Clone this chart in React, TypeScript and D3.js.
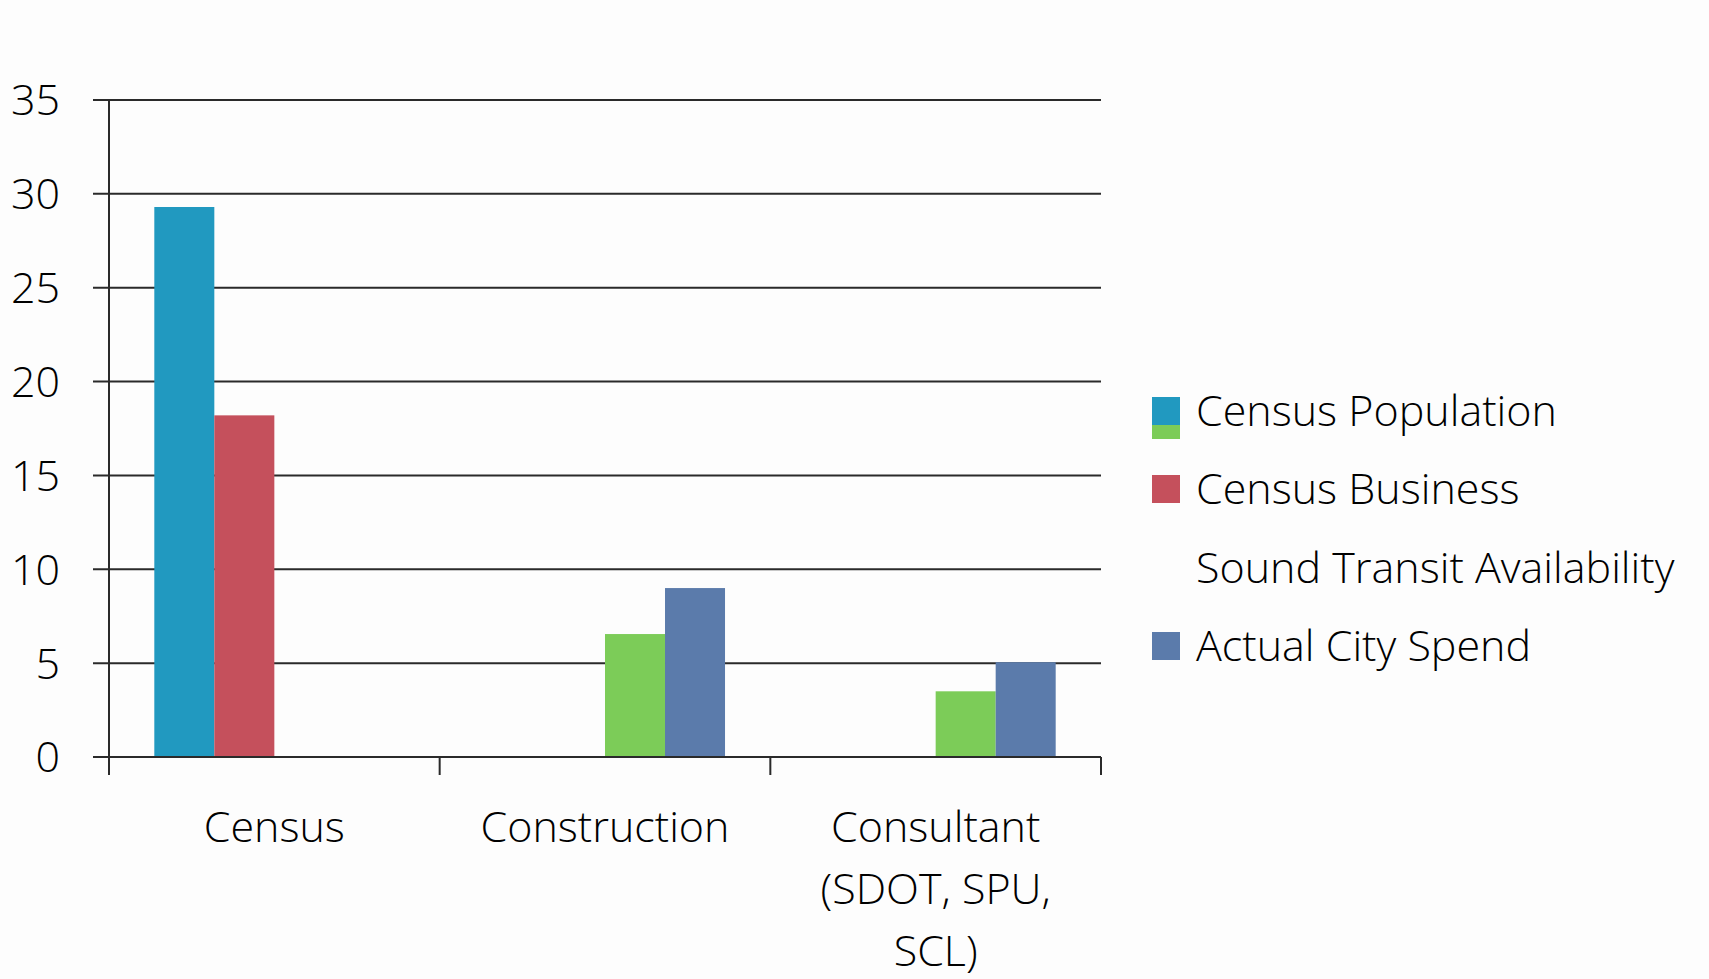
import React, { useEffect, useRef } from 'react';
import * as d3 from 'd3';

const categories = ['Census', 'Construction', 'Consultant (SDOT, SPU, SCL)'];
const categoryLines = [['Census'], ['Construction'], ['Consultant', '(SDOT, SPU,', 'SCL)']];
const seriesNames = ['Census Population', 'Census Business', 'Sound Transit Availability', 'Actual City Spend'];
const seriesColors = ['#2199c0', '#c5505c', '#7ccc58', '#5b7bab'];
const censusPopulation = [29.3, 0, 0];
const censusBusiness = [18.2, 0, 0];
const soundTransit = [0, 6.55, 3.5];
const actualCitySpend = [0, 9.0, 5.05];
const yTicks = [0, 5, 10, 15, 20, 25, 30, 35];

const App = () => {
  const ref = useRef<SVGSVGElement>(null);

  useEffect(() => {
    const svg = d3.select(ref.current);
    svg.selectAll('*').remove();

    const font = "'Open Sans', 'Noto Sans', sans-serif";
    const weight = 300;
    const fs = 43;
    const left = 109, right = 1101, top = 100, bottom = 757;

    const y = d3.scaleLinear().domain([0, 35]).range([bottom, top]);
    const x0 = d3.scaleBand().domain(categories).range([left, right]).padding(0);
    const x1 = d3.scaleBand().domain(seriesNames).range([0, x0.bandwidth()])
      .paddingInner(0).paddingOuter(0.755);

    svg.append('rect').attr('width', 1709).attr('height', 979).attr('fill', '#fdfdfd');

    // gridlines + y labels
    const g = svg.append('g');
    g.selectAll('line.grid')
      .data(yTicks)
      .enter().append('line')
      .attr('x1', left - 16).attr('x2', right)
      .attr('y1', d => y(d)).attr('y2', d => y(d))
      .attr('stroke', '#2a2a2a').attr('stroke-width', 2);

    g.selectAll('text.ytick')
      .data(yTicks)
      .enter().append('text')
      .attr('x', 60).attr('y', d => y(d))
      .attr('dy', '0.36em')
      .attr('text-anchor', 'end')
      .attr('font-family', font).attr('font-size', fs).attr('font-weight', weight)
      .attr('fill', '#000')
      .text(d => d);

    // bars
    const rows = categories.map((c, i) => ({
      cat: c,
      vals: [censusPopulation[i], censusBusiness[i], soundTransit[i], actualCitySpend[i]],
    }));
    svg.append('g')
      .selectAll('g')
      .data(rows)
      .enter().append('g')
      .attr('transform', d => `translate(${x0(d.cat)},0)`)
      .selectAll('rect')
      .data(d => d.vals.map((v, k) => ({ key: seriesNames[k], value: v, k })))
      .enter().append('rect')
      .attr('x', d => x1(d.key)!)
      .attr('y', d => y(d.value))
      .attr('width', x1.bandwidth())
      .attr('height', d => bottom - y(d.value))
      .attr('fill', d => seriesColors[d.k]);

    // axes lines
    svg.append('line')
      .attr('x1', left).attr('x2', left).attr('y1', top).attr('y2', bottom + 18)
      .attr('stroke', '#2a2a2a').attr('stroke-width', 2);
    svg.append('line')
      .attr('x1', left - 16).attr('x2', right).attr('y1', bottom).attr('y2', bottom)
      .attr('stroke', '#2a2a2a').attr('stroke-width', 2);
    svg.selectAll('line.ctick')
      .data(categories)
      .enter().append('line')
      .attr('x1', d => x0(d)! + x0.bandwidth()).attr('x2', d => x0(d)! + x0.bandwidth())
      .attr('y1', bottom).attr('y2', bottom + 18)
      .attr('stroke', '#2a2a2a').attr('stroke-width', 2);

    // category labels
    svg.selectAll('text.cat')
      .data(categories)
      .enter().append('text')
      .attr('text-anchor', 'middle')
      .attr('font-family', font).attr('font-size', fs).attr('font-weight', weight)
      .attr('fill', '#000')
      .each(function (d, i) {
        const t = d3.select(this);
        categoryLines[i].forEach((line, j) => {
          t.append('tspan')
            .attr('x', x0(d)! + x0.bandwidth() / 2)
            .attr('y', 827 + j * 62)
            .attr('dy', '0.36em')
            .text(line);
        });
      });

    // legend
    const legendY = [411, 489, 568, 646];
    const lg = svg.append('g');
    // Sound Transit swatch sits shifted under the first one in the scan
    lg.append('rect')
      .attr('x', 1152).attr('y', legendY[0] + 5).attr('width', 28).attr('height', 23)
      .attr('fill', seriesColors[2]);
    [0, 1, 3].forEach(k => {
      lg.append('rect')
        .attr('x', 1152).attr('y', legendY[k] - 14).attr('width', 28).attr('height', 28)
        .attr('fill', seriesColors[k]);
    });
    lg.selectAll('text')
      .data(seriesNames)
      .enter().append('text')
      .attr('x', 1196).attr('y', (d, i) => legendY[i])
      .attr('dy', '0.36em')
      .attr('font-family', font).attr('font-size', fs).attr('font-weight', weight)
      .attr('fill', '#000')
      .text(d => d);
  }, []);

  return (
    <div>
      <style>{'body{margin:0}'}</style>
      <svg ref={ref} width={1709} height={979} style={{ display: 'block' }} />
    </div>
  );
};

export default App;
